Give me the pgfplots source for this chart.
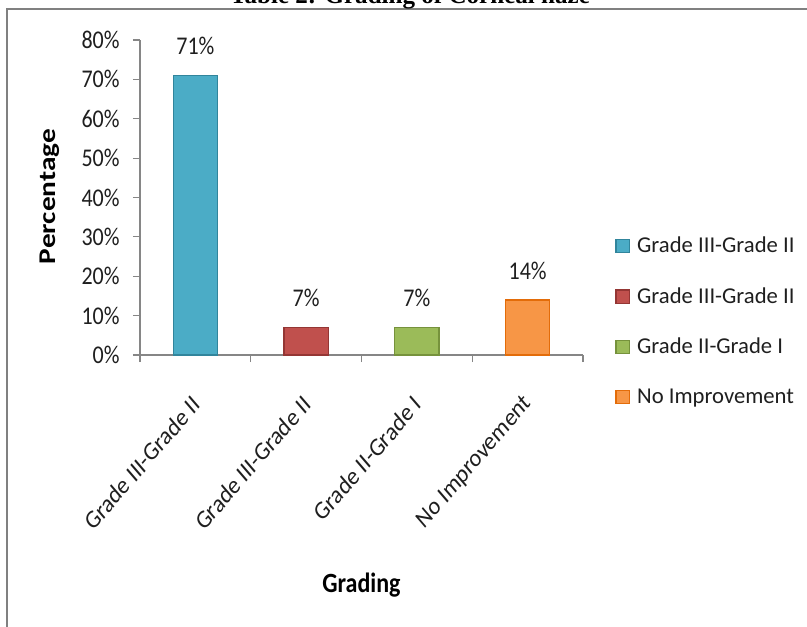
\documentclass[border=0pt]{standalone}
\usepackage{fontspec}
\setmainfont{Carlito}
\newfontfamily\titlefont{Liberation Serif}
\usepackage{pgfplots}
\pgfplotsset{compat=1.18}
\definecolor{cA}{HTML}{4BACC6}
\definecolor{cAd}{HTML}{31859C}
\definecolor{cB}{HTML}{C0504D}
\definecolor{cBd}{HTML}{943634}
\definecolor{cC}{HTML}{9BBB59}
\definecolor{cCd}{HTML}{76923C}
\definecolor{cD}{HTML}{F79646}
\definecolor{cDd}{HTML}{E36C09}
\definecolor{axgray}{HTML}{868686}
\definecolor{txt}{HTML}{1F1F1F}
\newcommand{\fsz}{\fontsize{16.5}{19.8}\selectfont}
\begin{document}
\begin{tikzpicture}
\begin{axis}[
  at={(0pt,0pt)}, anchor=south west,
  scale only axis, width=332.25pt, height=236.25pt,
  ymin=0, ymax=80, xmin=-0.5, xmax=3.5,
  axis lines=left, axis line style={draw=axgray, line width=0.8pt, -},
  ytick={0,10,...,80},
  yticklabel={\pgfmathprintnumber{\tick}\%},
  /pgf/number format/assume math mode=true,
  tick align=outside, major tick length=5.25pt,
  tick style={draw=axgray, line width=0.8pt},
  xtick={-0.5,0.5,1.5,2.5,3.5}, xticklabels={{},{},{},{},{}},
  extra x ticks={0,1,2,3},
  extra x tick labels={Grade III-Grade II,Grade III-Grade II,Grade II-Grade I,No Improvement},
  extra x tick style={major tick length=0pt},
  x tick label style={xshift=3pt, yshift=-31pt, yscale=1.16, rotate=45, anchor=east, font=\fsz, text=txt},
  y tick label style={xshift=-6.5pt, yscale=1.16, font=\fsz, text=txt},
  xlabel={Grading}, ylabel={Percentage},
  xlabel style={font=\bfseries\fontsize{18}{21}\selectfont, yscale=1.16, text=black, at={(axis description cs:0.5,-0.73)}, anchor=center},
  ylabel style={font=\bfseries\fontsize{18}{21}\selectfont, text=black, at={(axis description cs:-0.204,0.503)}, anchor=center, xscale=1.22},
  ybar, bar width=0.4, bar shift=0pt,
  nodes near coords={\pgfmathprintnumber{\pgfplotspointmeta}\%},
  nodes near coords style={font=\fsz, yscale=1.16, text=txt, anchor=south, yshift=9.5pt},
  every axis plot/.append style={line width=1pt},
  clip=false,
  legend style={draw=none, fill=none, at={(1.063,0.392)}, anchor=north west, font=\fontsize{17}{20}\selectfont, text=txt, row sep=20.6pt, column sep=3.5pt},
  legend cell align=left,
  legend image code/.code={\fill[#1] (0pt,-5pt) rectangle (10pt,5pt);},
]
\addplot[fill=cA, draw=cAd] coordinates {(0,71)};
\addplot[fill=cB, draw=cBd] coordinates {(1,7)};
\addplot[fill=cC, draw=cCd] coordinates {(2,7)};
\addplot[fill=cD, draw=cDd] coordinates {(3,14)};
\legend{Grade III-Grade II,Grade III-Grade II,Grade II-Grade I,No Improvement}
\end{axis}
\draw[black!50, line width=1.2pt] (510pt,259.5pt) -- (-99.75pt,259.5pt) -- (-99.75pt,-215pt);
\node[font=\titlefont\bfseries\fontsize{18.8}{21}\selectfont, anchor=base] at (202.5pt,263.8pt) {Table 2: Grading of Corneal haze};
\pgfresetboundingbox
\useasboundingbox (-105pt,-203.25pt) rectangle (500.25pt,266.25pt);
\end{tikzpicture}
\end{document}
